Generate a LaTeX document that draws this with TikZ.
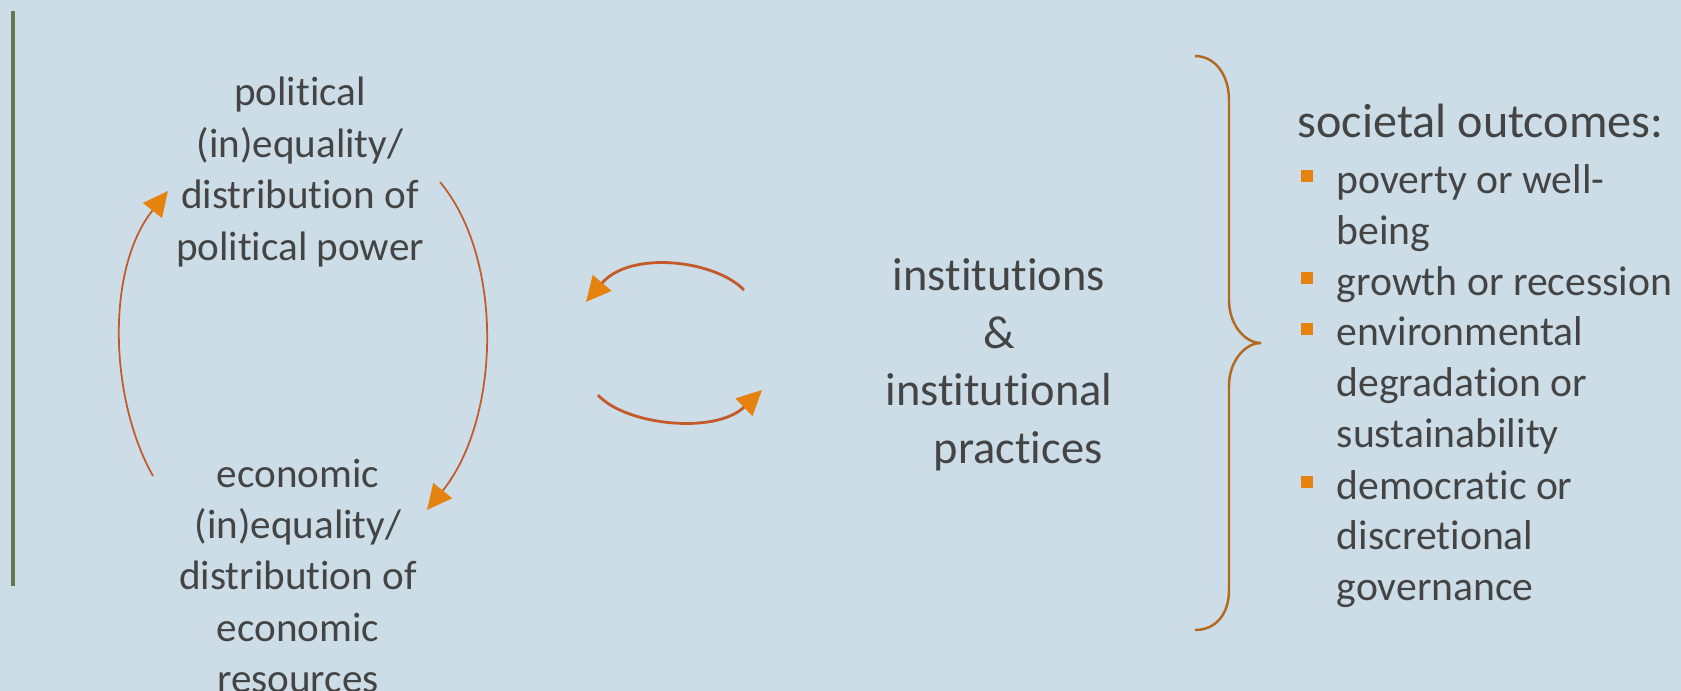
\documentclass[tikz,border=0pt]{standalone}
\usepackage{fontspec}
\setmainfont{Carlito}[Ligatures=NoCommon]
\usetikzlibrary{arrows.meta}
\definecolor{bgblue}{HTML}{CCDDE8}
\definecolor{bargreen}{HTML}{66784F}
\definecolor{txtgray}{HTML}{444444}
\definecolor{arcred}{HTML}{C4592A}
\definecolor{tiporange}{HTML}{E6830F}
\definecolor{bracebrown}{HTML}{B5691C}
\newcommand{\txtblock}[2]{\begin{tabular}[t]{@{}#1@{}}#2\end{tabular}}
\begin{document}
\begin{tikzpicture}[x=0.01cm,y=-0.01cm,
  lbl/.style={anchor=base,inner sep=0,text=txtgray,font=\fontsize{11.7}{14.6}\selectfont},
  midlbl/.style={anchor=base,inner sep=0,text=txtgray,font=\fontsize{13.2}{16.35}\selectfont},
  item/.style={anchor=base west,inner sep=0,text=txtgray,font=\fontsize{11.85}{14.5}\selectfont},
  bullet/.style={fill=tiporange,inner sep=0,minimum size=0.12cm},
  tip/.style={-{Triangle[length=0.25cm,width=0.24cm,color=tiporange,fill=tiporange]}},
  loop/.style={draw=arcred,line width=0.5pt,tip},
  swap/.style={draw=arcred,line width=0.8pt,tip}]
\useasboundingbox[fill=bgblue] (0,0) rectangle (1681,691);
\draw[bargreen,line width=1.1pt] (13,11) -- (13,586);
% left loop
\node[lbl] (pol) at (300,106) {\txtblock{c}{political\\(in)equality/\\distribution of\\political power}};
\node[lbl] (eco) at (298,487) {\txtblock{c}{economic\\(in)equality/\\distribution of\\economic\\resources}};
\coordinate (ecoL) at (153,476);
\coordinate (polL) at (168,191);
\coordinate (polR) at (440,182);
\coordinate (ecoR) at (427,510);
\path[loop] (ecoL) .. controls (110,400) and (105,270) .. (polL);
\path[loop] (polR) .. controls (505,260) and (500,420) .. (ecoR);
% exchange arrows
\coordinate (topA) at (744,290);
\coordinate (topB) at (586,302);
\coordinate (botA) at (598,395);
\coordinate (botB) at (762,390);
\path[swap] (topA) .. controls (715,260) and (630,250) .. (topB);
\path[swap] (botA) .. controls (625,425) and (715,435) .. (botB);
\node[midlbl] (inst) at (999,291) {\txtblock{c}{institutions\\\&\\institutional\\\hspace*{0.38cm}practices}};
% brace
\draw[bracebrown,line width=0.7pt] (1195,56) .. controls (1215,56) and (1229,75) .. (1229,100)
  -- (1229,300) .. controls (1229,325) and (1245,343) .. (1261,343)
  .. controls (1245,343) and (1229,361) .. (1229,386)
  -- (1229,590) .. controls (1229,615) and (1215,630) .. (1195,630);
% outcomes
\node[item,font=\fontsize{13.7}{16}\selectfont] (outc) at (1297,138) {societal outcomes:};
\node[bullet] (b1) at (1307,176) {};
\node[bullet] (b2) at (1307,278) {};
\node[bullet] (b3) at (1307,329) {};
\node[bullet] (b4) at (1307,482) {};
\node[item] (i1) at (1336,194) {\txtblock{l}{poverty or well-\\being}};
\node[item] (i2) at (1336,295) {growth or recession};
\node[item] (i3) at (1336,346) {\txtblock{l}{environmental\\degradation or\\sustainability}};
\node[item] (i4) at (1336,499) {\txtblock{l}{democratic or\\discretional\\governance}};
\end{tikzpicture}
\end{document}
